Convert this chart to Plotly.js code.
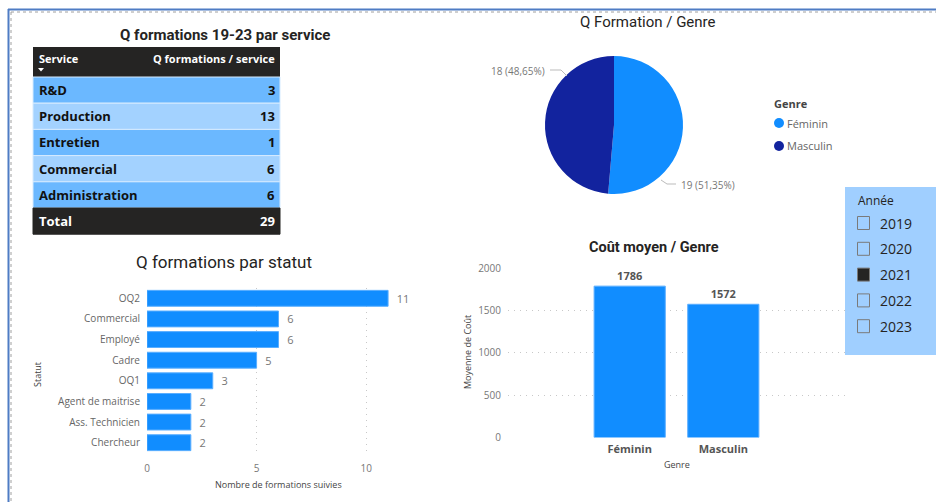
<!DOCTYPE html>
<html><head><meta charset="utf-8">
<script src="https://cdn.plot.ly/plotly-3.0.1.min.js"></script>
<style>html,body{margin:0;padding:0;background:#fff}#c{width:936px;height:502px}</style>
</head><body><div id="c"></div>
<script>
// ---- data ----
const services = ['R&D', 'Production', 'Entretien', 'Commercial', 'Administration'];
const serviceCounts = [3, 13, 1, 6, 6];
const tableHeaders = ['Service', 'Q formations / service'];
const statuts = ['OQ2', 'Commercial', 'Employé', 'Cadre', 'OQ1', 'Agent de maitrise', 'Ass. Technicien', 'Chercheur'];
const statutCounts = [11, 6, 6, 5, 3, 2, 2, 2];
const genres = ['Féminin', 'Masculin'];
const genreCounts = [19, 18];
const genreCosts = [1786, 1572];
const years = ['2019', '2020', '2021', '2022', '2023'];
const selectedYear = '2021';

// ---- helpers (pixel -> paper) ----
const W = 936, H = 502;
const px = x => x / W;
const py = y => 1 - y / H;
const FONT = 'Open Sans, Noto Sans, sans-serif';
const TFONT = 'Roboto, Noto Sans, sans-serif';
const BLUE = '#118DFF', NAVY = '#12239E';
const NB = '\u00a0\u00a0';

const ann = [];
const shapes = [];
const A = (x, y, text, o) => ann.push(Object.assign({xref: 'paper', yref: 'paper', x: px(x), y: py(y), text, showarrow: false,
  xanchor: 'center', yanchor: 'middle', font: {family: FONT, size: 11, color: '#333'}}, o || {}));
const R = (x0, y0, x1, y1, o) => shapes.push(Object.assign({type: 'rect', xref: 'paper', yref: 'paper',
  x0: px(x0), x1: px(x1), y0: py(y1), y1: py(y0), line: {width: 0}}, o || {}));
const P = pts => pts.map((p, i) => (i ? 'L' : 'M') + px(p[0]) + ',' + py(p[1])).join(' ');

// ---- table (matrix visual) ----
const total = serviceCounts.reduce((a, b) => a + b, 0);
const TX0 = 33, TX1 = 280, HT = 47, HB = 77, RH = 26.2;
R(TX0, HT, TX1, HB, {fillcolor: '#252423'});
A(37, 58, '<b>' + tableHeaders[0] + '</b>', {xanchor: 'left', font: {family: FONT, size: 11, color: '#FFF'}});
shapes.push({type: 'path', xref: 'paper', yref: 'paper', path: P([[38, 68], [44, 68], [41, 71.5]]) + ' Z',
  fillcolor: '#FFFFFF', line: {width: 0}});
A(277, 58, '<b>' + tableHeaders[1] + '</b>', {xanchor: 'right', font: {family: FONT, size: 11, color: '#FFF'}});
const rowsLab = services.concat(['Total']);
const rowsVal = serviceCounts.concat([total]);
rowsLab.forEach((s, i) => {
  const top = HB + RH * i, bot = top + RH;
  const isTotal = i === rowsLab.length - 1;
  const fill = isTotal ? '#252423' : (i % 2 === 0 ? '#6BB8FF' : '#A3D2FF');
  R(TX0, top, TX1, bot, {fillcolor: fill, line: {color: isTotal ? '#252423' : '#D6EBFF', width: 1}});
  const col = isTotal ? '#FFFFFF' : '#111111';
  A(37, (top + bot) / 2, '<b>' + s + '</b>', {xanchor: 'left', font: {family: FONT, size: 13, color: col}});
  A(277, (top + bot) / 2, '<b>' + rowsVal[i] + '</b>', {xanchor: 'right', font: {family: FONT, size: 13, color: col}});
});

// ---- traces ----
const statutTrace = {
  type: 'bar', orientation: 'h',
  x: statutCounts, y: statuts,
  xaxis: 'x', yaxis: 'y',
  width: 0.77,
  marker: {color: BLUE, line: {color: '#5AAEFF', width: 1}},
  text: statutCounts.map(v => NB + v), textposition: 'outside',
  textfont: {family: FONT, size: 11, color: '#777777'},
  cliponaxis: false, hoverinfo: 'x+y'
};

const costTrace = {
  type: 'bar',
  x: genres, y: genreCosts,
  xaxis: 'x2', yaxis: 'y2',
  width: 0.76,
  marker: {color: BLUE, line: {color: '#5AAEFF', width: 1}},
  text: genreCosts.map(v => '<b>' + v + '</b>'), textposition: 'outside',
  textfont: {family: FONT, size: 11, color: '#555555'},
  cliponaxis: false, hoverinfo: 'x+y'
};

const pieTrace = {
  type: 'pie',
  labels: genres, values: genreCounts,
  marker: {colors: [BLUE, NAVY], line: {width: 0}},
  sort: false, direction: 'clockwise', rotation: 0,
  textinfo: 'none',
  domain: {x: [px(545), px(683)], y: [py(194), py(56)]},
  showlegend: false
};

const sum = genreCounts.reduce((a, b) => a + b, 0);
const pieLabel = i => genreCounts[i] + ' (' + (genreCounts[i] / sum * 100).toFixed(2).replace('.', ',') + '%)';

// titles
A(225, 35, '<b>Q formations 19-23 par service</b>', {font: {family: TFONT, size: 15, color: '#252423'}});
A(648, 22, 'Q Formation / Genre', {font: {family: TFONT, size: 15, color: '#252423'}});
A(224, 262, 'Q formations par statut', {font: {family: TFONT, size: 17, color: '#252423'}});
A(654, 247, '<b>Coût moyen / Genre</b>', {font: {family: TFONT, size: 14.5, color: '#252423'}});

// axis titles
A(37, 375, 'Statut', {textangle: -90, font: {family: FONT, size: 9, color: '#444'}});
A(278, 484, 'Nombre de formations suivies', {font: {family: FONT, size: 9, color: '#444'}});
A(467, 352, 'Moyenne de Coût', {textangle: -90, font: {family: FONT, size: 9, color: '#444'}});
A(677, 464, 'Genre', {font: {family: FONT, size: 9, color: '#444'}});

// pie labels
A(547, 71, pieLabel(1), {xanchor: 'right', font: {family: FONT, size: 10, color: '#777'}});
A(679, 185, pieLabel(0), {xanchor: 'left', font: {family: FONT, size: 10, color: '#777'}});

// legend
A(772, 103, '<b>Genre</b>', {xanchor: 'left', font: {family: FONT, size: 11, color: '#444'}});
genres.forEach((g, i) => {
  const col = [BLUE, NAVY][i];
  const cy = 123 + i * 23;
  shapes.push({type: 'circle', xref: 'paper', yref: 'paper', x0: px(774), x1: px(784), y0: py(cy + 5), y1: py(cy - 5),
    fillcolor: col, line: {width: 0}});
  A(785, cy, g, {xanchor: 'left', font: {family: FONT, size: 11, color: '#666'}});
});

// slicer
R(845, 187, 936, 355, {fillcolor: '#A0CFFF', layer: 'below'});
A(856, 200, 'Année', {xanchor: 'left', font: {family: FONT, size: 12, color: '#252423'}});
years.forEach((yr, i) => {
  const cy = 223 + i * 25.8;
  R(857.5, cy - 6.5, 869.5, cy + 6.5, {fillcolor: yr === selectedYear ? '#252423' : 'rgba(0,0,0,0)', line: {color: '#7A7A7A', width: 1}});
  A(878, cy, yr, {xanchor: 'left', font: {family: FONT, size: 14, color: '#252423'}});
});

// pie leader lines
shapes.push({type: 'path', xref: 'paper', yref: 'paper', path: P([[550, 70], [561, 70], [567, 76]]), line: {color: '#BBBBBB', width: 1}});
shapes.push({type: 'path', xref: 'paper', yref: 'paper', path: P([[661, 180], [667, 184], [676, 184]]), line: {color: '#BBBBBB', width: 1}});

// page border
shapes.push({type: 'line', xref: 'paper', yref: 'paper', x0: px(8), x1: 1, y0: py(9.5), y1: py(9.5), line: {color: '#4F7CC4', width: 2}});
shapes.push({type: 'line', xref: 'paper', yref: 'paper', x0: px(8.5), x1: px(8.5), y0: py(9), y1: 0, line: {color: '#4F7CC4', width: 2}});
shapes.push({type: 'line', xref: 'paper', yref: 'paper', x0: px(11), x1: 1, y0: py(12), y1: py(12), line: {color: '#A0A0A0', width: 1, dash: 'dot'}});
shapes.push({type: 'line', xref: 'paper', yref: 'paper', x0: px(11), x1: px(11), y0: py(12), y1: 0, line: {color: '#A0A0A0', width: 1, dash: 'dot'}});

const grid = {showgrid: true, gridcolor: '#C8C8C8', griddash: '1px,5px', gridwidth: 1, zeroline: false, showline: false, ticks: ''};

const layout = {
  width: W, height: H,
  margin: {l: 0, r: 0, t: 0, b: 0},
  paper_bgcolor: '#FFFFFF', plot_bgcolor: 'rgba(0,0,0,0)',
  showlegend: false, separators: ',.',
  font: {family: FONT},
  xaxis: Object.assign({}, grid, {domain: [px(147), px(410)], range: [0, 12], tickvals: [0, 5, 10], anchor: 'y',
    ticklabelstandoff: 8, tickfont: {family: FONT, size: 10, color: '#777'}}),
  yaxis: Object.assign({}, grid, {domain: [py(453), py(288)], type: 'category', categoryorder: 'array', categoryarray: statuts,
    autorange: 'reversed', showgrid: false, anchor: 'x', ticklabelstandoff: 6,
    tickfont: {family: FONT, size: 10, color: '#666'}}),
  xaxis2: Object.assign({}, grid, {domain: [px(508), px(845)], range: [-1.3, 2.3], type: 'category', showgrid: false, anchor: 'y2',
    ticklabelstandoff: 3, tickfont: {family: FONT, size: 11, color: '#555', weight: 'bold'}}),
  yaxis2: Object.assign({}, grid, {domain: [py(437.5), py(268)], range: [0, 2000], dtick: 500, anchor: 'x2', ticklabelstandoff: 6,
    tickfont: {family: FONT, size: 10, color: '#777'}}),
  annotations: ann,
  shapes: shapes
};

Plotly.newPlot('c', [statutTrace, costTrace, pieTrace], layout, {displayModeBar: false, staticPlot: true});
</script></body></html>
